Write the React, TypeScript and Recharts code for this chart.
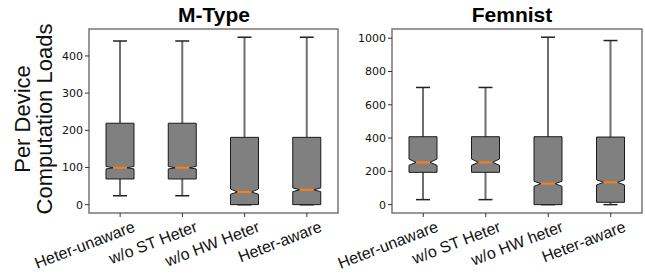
import { ComposedChart, Bar, XAxis, YAxis, ReferenceArea } from 'recharts';

// categories (x tick labels)
const mtypeCategories = ['Heter-unaware', 'w/o ST Heter', 'w/o HW Heter', 'Heter-aware'];
const femnistCategories = ['Heter-unaware', 'w/o ST Heter', 'w/o HW heter', 'Heter-aware'];

// M-Type box statistics
const mtypeLow = [24, 24, 0, 0];
const mtypeQ1 = [69, 69, 0, 0];
const mtypeMedian = [99, 99, 34, 40];
const mtypeQ3 = [219, 219, 181, 181];
const mtypeHigh = [440, 440, 450, 450];
const mtypeNotchLow = [96, 96, 28, 35];
const mtypeNotchHigh = [103, 103, 42, 45];

// Femnist box statistics
const femnistLow = [30, 30, 0, 0];
const femnistQ1 = [194, 194, 0, 14];
const femnistMedian = [254, 254, 126, 134];
const femnistQ3 = [408, 408, 408, 406];
const femnistHigh = [704, 704, 1006, 986];
const femnistNotchLow = [236, 236, 110, 118];
const femnistNotchHigh = [274, 274, 140, 150];

const mtypeTicks = [0, 100, 200, 300, 400];
const femnistTicks = [0, 200, 400, 600, 800, 1000];

const FONT = '"Liberation Sans", Arial, sans-serif';

function buildRows(
  names: string[], low: number[], q1: number[], med: number[], q3: number[],
  high: number[], nlo: number[], nhi: number[]
) {
  return names.map((name, i) => ({
    name,
    range: [low[i], high[i]],
    low: low[i], q1: q1[i], med: med[i], q3: q3[i], high: high[i],
    nlo: nlo[i], nhi: nhi[i],
  }));
}

const mtypeData = buildRows(mtypeCategories, mtypeLow, mtypeQ1, mtypeMedian, mtypeQ3, mtypeHigh, mtypeNotchLow, mtypeNotchHigh);
const femnistData = buildRows(femnistCategories, femnistLow, femnistQ1, femnistMedian, femnistQ3, femnistHigh, femnistNotchLow, femnistNotchHigh);

// draws a notched box from the bar's [low, high] rectangle
const NotchedBox = (props: any) => {
  const { x, y, width, height, payload } = props;
  if (!payload) return null;
  const top = Math.min(y, y + height);
  const h = Math.abs(height);
  const { low, q1, med, q3, high, nlo, nhi } = payload;
  const k = high - low === 0 ? 0 : h / (high - low);
  const py = (v: number) => top + (high - v) * k;
  const cx = x + width / 2;
  const L = x;
  const R = x + width;
  const cL = cx - width / 4;
  const cR = cx + width / 4;
  const pts = [
    [L, py(q1)], [R, py(q1)], [R, py(nlo)], [cR, py(med)], [R, py(nhi)], [R, py(q3)],
    [L, py(q3)], [L, py(nhi)], [cL, py(med)], [L, py(nlo)],
  ].map((p) => p.join(',')).join(' ');
  const whisker = '#6e6e6e';
  return (
    <g>
      <line x1={cx} x2={cx} y1={py(q1)} y2={py(low)} stroke={whisker} strokeWidth={2} />
      <line x1={cx} x2={cx} y1={py(q3)} y2={py(high)} stroke={whisker} strokeWidth={2} />
      <line x1={cL} x2={cR} y1={py(low)} y2={py(low)} stroke="#222" strokeWidth={1.5} />
      <line x1={cL} x2={cR} y1={py(high)} y2={py(high)} stroke="#222" strokeWidth={1.5} />
      <polygon points={pts} fill="#808080" stroke="#1a1a1a" strokeWidth={1} />
      <line x1={cL} x2={cR} y1={py(med)} y2={py(med)} stroke="#ff7f0e" strokeWidth={2} />
    </g>
  );
};

const XTick = (props: any) => {
  const { x, y, payload } = props;
  const ax = x + 16;
  const ay = y + 12;
  return (
    <text x={ax} y={ay} textAnchor="end" fontSize={16} fontFamily={FONT} fill="#111"
      transform={`rotate(-21, ${ax}, ${ay})`}>
      {payload.value}
    </text>
  );
};

interface PanelProps {
  data: any[];
  domain: [number, number];
  ticks: number[];
  width: number;
  margin: { top: number; right: number; bottom: number; left: number };
}

function Panel({ data, domain, ticks, width, margin }: PanelProps) {
  return (
    <ComposedChart width={width} height={280} data={data} margin={margin} style={{ overflow: 'visible' }}>
      <XAxis dataKey="name" interval={0} axisLine={false} tickSize={4}
        tickLine={{ stroke: '#333' }} height={60} tick={<XTick />} />
      <YAxis type="number" domain={domain} ticks={ticks} allowDataOverflow width={30}
        axisLine={false} tickSize={4} tickMargin={2} tickLine={{ stroke: '#333' }}
        tick={{ fontSize: 11, fill: '#111', fontFamily: '"DejaVu Sans", sans-serif' }} />
      <ReferenceArea y1={domain[0]} y2={domain[1]} fill="none" stroke="#777" strokeWidth={1.5} ifOverflow="visible" />
      <Bar dataKey="range" barSize={28} shape={<NotchedBox />} isAnimationActive={false} />
    </ComposedChart>
  );
}

export default function App() {
  return (
    <div style={{ position: 'absolute', left: 0, top: 0, width: 645, height: 280, background: '#fff' }}>
      <div style={{ position: 'absolute', left: 0, top: 0 }}>
        <Panel data={mtypeData} domain={[-22.5, 472.5]} ticks={mtypeTicks} width={345}
          margin={{ top: 29, right: 7, bottom: 7, left: 59 }} />
      </div>
      <div style={{ position: 'absolute', left: 300, top: 0 }}>
        <Panel data={femnistData} domain={[-50.3, 1055.3]} ticks={femnistTicks} width={345}
          margin={{ top: 29, right: 3, bottom: 7, left: 62 }} />
      </div>
      <svg width={645} height={280} style={{ position: 'absolute', left: 0, top: 0, pointerEvents: 'none' }}>
        <text x={214} y={22} textAnchor="middle" fontSize={21} fontWeight="bold" fontFamily={FONT} fill="#000">M-Type</text>
        <text x={512} y={22} textAnchor="middle" fontSize={21} fontWeight="bold" fontFamily={FONT} fill="#000">Femnist</text>
        <text x={30} y={119} textAnchor="middle" fontSize={22} fontFamily={FONT} fill="#111"
          transform="rotate(-90, 30, 119)">Per Device</text>
        <text x={52} y={119} textAnchor="middle" fontSize={22} fontFamily={FONT} fill="#111"
          transform="rotate(-90, 52, 119)">Computation Loads</text>
      </svg>
    </div>
  );
}
